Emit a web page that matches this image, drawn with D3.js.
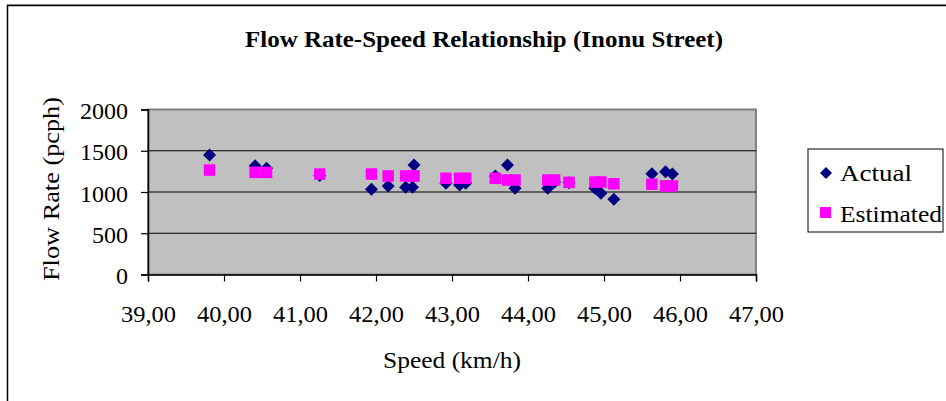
<!DOCTYPE html>
<html><head><meta charset="utf-8">
<script src="https://cdn.jsdelivr.net/npm/d3@7"></script>
<style>body{margin:0;background:#fff}svg{display:block}</style>
</head><body>
<script>
const title = "Flow Rate-Speed Relationship (Inonu Street)";
const xTitle = "Speed (km/h)";
const yTitle = "Flow Rate (pcph)";
const seriesNames = ["Actual", "Estimated"];
const speeds = [39.81, 40.41, 40.56, 41.26, 41.94, 42.16, 42.39, 42.48, 42.50, 42.92, 43.10, 43.18, 43.57, 43.73, 43.83, 44.26, 44.35, 44.54, 44.88, 44.96, 45.13, 45.63, 45.81, 45.90];
const actual = [1448, 1319, 1287, 1200, 1032, 1073, 1057, 1057, 1327, 1105, 1085, 1105, 1194, 1327, 1044, 1044, 1120, 1112, 1044, 984, 911, 1222, 1246, 1218];
const estimated = [1266, 1238, 1238, 1218, 1218, 1194, 1194, 1194, 1194, 1166, 1166, 1166, 1166, 1145, 1145, 1145, 1145, 1117, 1121, 1121, 1100, 1095, 1073, 1073];
const xTicks = [39, 40, 41, 42, 43, 44, 45, 46, 47];
const yTicks = [0, 500, 1000, 1500, 2000];

const FONT = "'Liberation Serif', 'Times New Roman', Times, serif";
const W = 946, H = 401;
const svg = d3.select("body").append("svg").attr("width", W).attr("height", H)
  .style("font-family", FONT);

svg.append("line").attr("x1", 7).attr("x2", W).attr("y1", 4.5).attr("y2", 4.5).attr("stroke", "#b0b0b0");
svg.append("rect").attr("x", 7.5).attr("y", 5.5).attr("width", W + 10).attr("height", H + 10)
  .attr("fill", "none").attr("stroke", "#000").attr("stroke-width", 1.5);

const x = d3.scaleLinear().domain([39, 47]).range([148, 756]);
const y = d3.scaleLinear().domain([0, 2000]).range([274.5, 109.5]);

svg.append("rect").attr("x", x(39)).attr("y", y(2000)).attr("width", x(47) - x(39)).attr("height", y(0) - y(2000))
  .attr("fill", "#c0c0c0").attr("stroke", "#808080").attr("stroke-width", 2);

svg.append("g").selectAll("line").data(yTicks.filter(d => d > 0 && d < 2000)).join("line")
  .attr("x1", x(39)).attr("x2", x(47)).attr("y1", d => y(d)).attr("y2", d => y(d))
  .attr("stroke", "#000").attr("stroke-width", 1.2);

const yAxis = d3.axisLeft(y).tickValues(yTicks).tickSize(7).tickPadding(13).tickFormat(d3.format("d"));
const gy = svg.append("g").attr("transform", `translate(${x(39)},0)`).call(yAxis);
gy.attr("font-family", null).attr("font-size", null);
gy.select(".domain").attr("stroke", "#000").attr("stroke-width", 1.5);
gy.selectAll(".tick line").attr("stroke", "#000").attr("stroke-width", 1.2);
gy.selectAll("text").style("font-size", "24px").style("font-family", FONT)
  .attr("dy", null).attr("y", 9);

const xAxis = d3.axisBottom(x).tickValues(xTicks).tickSize(7)
  .tickFormat(d => d3.format(".2f")(d).replace(".", ","));
const gx = svg.append("g").attr("transform", `translate(0,${y(0)})`).call(xAxis);
gx.attr("font-family", null).attr("font-size", null);
gx.select(".domain").attr("stroke", "#000").attr("stroke-width", 1.5);
gx.selectAll(".tick line").attr("stroke", "#000").attr("stroke-width", 1.2);
gx.selectAll("text").style("font-size", "23px").style("font-family", FONT)
  .attr("dy", null).attr("y", 47).attr("textLength", 55).attr("lengthAdjust", "spacingAndGlyphs");

svg.append("text").attr("x", 484).attr("y", 47).attr("text-anchor", "middle")
  .style("font-size", "23px").style("font-weight", "bold").style("font-family", FONT)
  .attr("textLength", 478).attr("lengthAdjust", "spacingAndGlyphs")
  .text(title);
svg.append("text").attr("x", 452).attr("y", 368).attr("text-anchor", "middle")
  .style("font-size", "24px").style("font-family", FONT)
  .attr("textLength", 138).attr("lengthAdjust", "spacingAndGlyphs").text(xTitle);
svg.append("text").attr("transform", "translate(59,189) rotate(-90)").attr("text-anchor", "middle")
  .style("font-size", "24px").style("font-family", FONT)
  .attr("textLength", 184).attr("lengthAdjust", "spacingAndGlyphs").text(yTitle);

const diamond = s => `M0,${-s}L${s},0L0,${s}L${-s},0Z`;
const ds = 6.5, ss = 11.5;
svg.append("g").selectAll("path").data(speeds.map((s, i) => [s, actual[i]])).join("path")
  .attr("d", diamond(ds)).attr("fill", "#000080")
  .attr("transform", d => `translate(${x(d[0])},${y(d[1])})`);
svg.append("g").selectAll("rect").data(speeds.map((s, i) => [s, estimated[i]])).join("rect")
  .attr("x", d => x(d[0]) - ss / 2).attr("y", d => y(d[1]) - ss / 2)
  .attr("width", ss).attr("height", ss).attr("fill", "#ff00ff");

const lg = svg.append("g");
lg.append("rect").attr("x", 808).attr("y", 149).attr("width", 135).attr("height", 83)
  .attr("fill", "#fff").attr("stroke", "#000").attr("stroke-width", 1);
lg.append("path").attr("d", diamond(6)).attr("fill", "#000080").attr("transform", "translate(826,173)");
lg.append("rect").attr("x", 820).attr("y", 207).attr("width", 11).attr("height", 11).attr("fill", "#ff00ff");
lg.append("text").attr("x", 840).attr("y", 181).style("font-size", "23px").style("font-family", FONT)
  .attr("textLength", 72).attr("lengthAdjust", "spacingAndGlyphs").text(seriesNames[0]);
lg.append("text").attr("x", 840).attr("y", 222).style("font-size", "23px").style("font-family", FONT)
  .attr("textLength", 102).attr("lengthAdjust", "spacingAndGlyphs").text(seriesNames[1]);
</script>
</body></html>
